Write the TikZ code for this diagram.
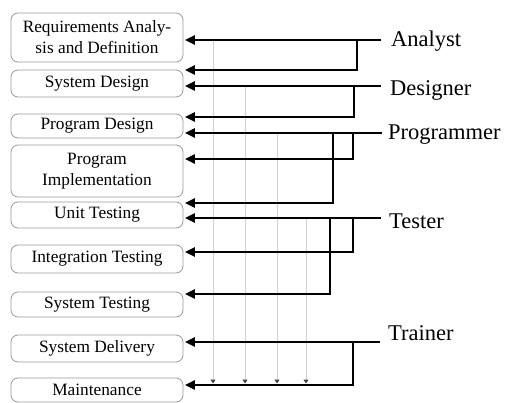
\documentclass[tikz,border=0pt]{standalone}
\usepackage{fontspec}
\setmainfont{Liberation Serif}
\usetikzlibrary{arrows.meta}
\begin{document}
\begin{tikzpicture}[x=1pt,y=-1pt,
  box/.style={draw=black!40, line width=0.8pt, rounded corners=7pt, minimum width=172pt,
    align=center, inner sep=0pt, font=\fontsize{17.3}{21}\selectfont},
  role/.style={anchor=west, inner sep=0pt, font=\fontsize{22.5}{26}\selectfont},
  link/.style={line width=2.5pt},
  arr/.style={line width=2.5pt, -{Triangle[length=10pt,width=9pt]}, shorten >=1.5pt},
  guide/.style={draw=black!18, line width=1pt, -{Triangle[length=4pt,width=5pt,color=black!75]}, shorten >=1.5pt}
]
\useasboundingbox (0,0) rectangle (505,403);
% boxes
\node[box, minimum height=49pt] (b1) at (97,37.5) {Requirements Analy-\\sis and Definition};
\node[box, minimum height=27pt] (b2) at (97,83.5) {System Design};
\node[box, minimum height=24pt] (b3) at (97,126) {Program Design};
\node[box, minimum height=52pt] (b4) at (97,171) {Program\\Implementation};
\node[box, minimum height=26pt] (b5) at (97,215) {Unit Testing};
\node[box, minimum height=28pt] (b6) at (97,259) {Integration Testing};
\node[box, minimum height=25pt] (b7) at (97,304.5) {System Testing};
\node[box, minimum height=27pt] (b8) at (97,348.5) {System Delivery};
\node[box, minimum height=24pt] (b9) at (97,390) {Maintenance};
% role labels
\node[role] (analyst) at (391,41) {Analyst};
\node[role] (designer) at (390,90) {Designer};
\node[role] (programmer) at (388,135) {Programmer};
\node[role] (tester) at (389,221) {Tester};
\node[role] (trainer) at (388,333) {Trainer};
% line starts
\coordinate (an) at (381,40);
\coordinate (de) at (381,86);
\coordinate (pr) at (382,133);
\coordinate (te) at (381,218);
\coordinate (tr) at (380,342);
% guides
\coordinate (g1) at (213,40);
\coordinate (g2) at (245,86);
\coordinate (g3) at (277,133);
\coordinate (g4) at (306,218);
\foreach \g in {g1,g2,g3,g4}
  \draw[guide] (\g) -- (\g |- 0,385);
% analyst
\draw[arr] (an) -- (b1.east |- an);
\draw[arr] (an -| 357,0) |- (b2.east |- 0,70);
% designer
\draw[arr] (de) -- (b2.east |- de);
\draw[arr] (de -| 354,0) |- (b3.east |- 0,117);
% programmer
\draw[arr] (pr) -- (b3.east |- pr);
\draw[arr] (pr -| 353,0) |- (b4.east |- 0,159);
\draw[arr] (pr -| 333,0) |- (b5.east |- 0,203);
% tester
\draw[arr] (te) -- (b5.east |- te);
\draw[arr] (te -| 353,0) |- (b6.east |- 0,252);
\draw[arr] (te -| 330,0) |- (b7.east |- 0,294);
% trainer
\draw[arr] (tr) -- (b8.east |- tr);
\draw[arr] (tr -| 353,0) |- (b9.east |- 0,385);
\end{tikzpicture}
\end{document}
